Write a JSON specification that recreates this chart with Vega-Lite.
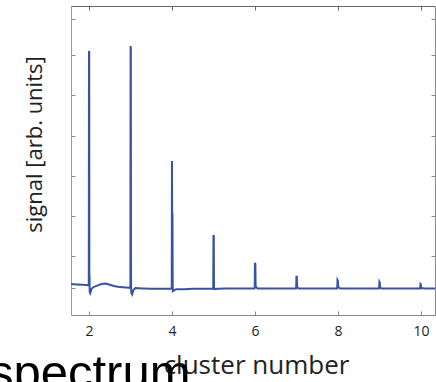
{
  "$schema": "https://vega.github.io/schema/vega-lite/v6.json",
  "width": 364,
  "height": 309,
  "autosize": {"type": "none"},
  "padding": {"left": 71, "top": 6, "right": 1, "bottom": 67},
  "background": "white",
  "title": {"text": "spectrum", "orient": "bottom", "anchor": "start", "frame": "group", "dx": -82, "offset": 11, "fontSize": 49, "font": "Liberation Sans", "fontWeight": "normal", "color": "black", "baseline": "alphabetic"},
  "config": {"view": {"stroke": null}},
  "data": {"values": [
    {"x": 1.566, "v": 0.10}, {"x": 1.7, "v": 0.09}, {"x": 1.85, "v": 0.08}, {"x": 1.98, "v": 0.07},
    {"x": 1.995, "v": 0.1}, {"x": 2.0, "v": 5.925}, {"x": 2.005, "v": 5.9}, {"x": 2.008, "v": 0.35}, {"x": 2.013, "v": 0.3}, {"x": 2.016, "v": -0.1},
    {"x": 2.03, "v": -0.13}, {"x": 2.06, "v": -0.02}, {"x": 2.12, "v": 0.03}, {"x": 2.2, "v": 0.06}, {"x": 2.3, "v": 0.1},
    {"x": 2.4, "v": 0.11}, {"x": 2.5, "v": 0.08}, {"x": 2.6, "v": 0.05}, {"x": 2.7, "v": 0.03}, {"x": 2.8, "v": 0.02},
    {"x": 2.9, "v": 0.01}, {"x": 2.99, "v": 0.0}, {"x": 2.998, "v": 0.1}, {"x": 3.003, "v": 6.05}, {"x": 3.008, "v": 6.0},
    {"x": 3.013, "v": 0.3}, {"x": 3.018, "v": -0.12}, {"x": 3.04, "v": -0.16}, {"x": 3.07, "v": -0.05}, {"x": 3.12, "v": 0.0},
    {"x": 3.3, "v": -0.01}, {"x": 3.5, "v": -0.02}, {"x": 3.7, "v": -0.02}, {"x": 3.99, "v": -0.02},
    {"x": 3.995, "v": 0.1}, {"x": 4.0, "v": 3.175}, {"x": 4.004, "v": 1.9}, {"x": 4.012, "v": 1.85}, {"x": 4.017, "v": 0.1},
    {"x": 4.022, "v": -0.08}, {"x": 4.05, "v": -0.06}, {"x": 4.1, "v": -0.03}, {"x": 4.3, "v": -0.03}, {"x": 4.5, "v": -0.02},
    {"x": 4.7, "v": -0.02}, {"x": 4.99, "v": -0.02}, {"x": 4.995, "v": 0.05}, {"x": 5.0, "v": 1.325}, {"x": 5.008, "v": 1.3},
    {"x": 5.013, "v": 0.05}, {"x": 5.02, "v": -0.03}, {"x": 5.1, "v": -0.02}, {"x": 5.3, "v": -0.01}, {"x": 5.6, "v": -0.01},
    {"x": 5.99, "v": -0.01}, {"x": 5.995, "v": 0.05}, {"x": 6.0, "v": 0.625}, {"x": 6.01, "v": 0.6}, {"x": 6.016, "v": 0.05},
    {"x": 6.03, "v": 0.02}, {"x": 6.06, "v": -0.01}, {"x": 6.3, "v": -0.01}, {"x": 6.6, "v": -0.01}, {"x": 6.99, "v": -0.01},
    {"x": 6.995, "v": 0.05}, {"x": 7.0, "v": 0.3}, {"x": 7.01, "v": 0.28}, {"x": 7.016, "v": 0.03}, {"x": 7.05, "v": -0.01},
    {"x": 7.3, "v": -0.01}, {"x": 7.6, "v": -0.01}, {"x": 7.98, "v": -0.01}, {"x": 7.985, "v": 0.05}, {"x": 7.99, "v": 0.2},
    {"x": 8.0, "v": 0.18}, {"x": 8.006, "v": 0.03}, {"x": 8.05, "v": -0.01}, {"x": 8.3, "v": -0.01}, {"x": 8.6, "v": -0.01},
    {"x": 8.99, "v": -0.01}, {"x": 8.995, "v": 0.05}, {"x": 9.0, "v": 0.15}, {"x": 9.01, "v": 0.13}, {"x": 9.015, "v": 0.02},
    {"x": 9.05, "v": -0.01}, {"x": 9.4, "v": -0.01}, {"x": 9.7, "v": -0.01}, {"x": 9.98, "v": -0.01}, {"x": 9.985, "v": 0.04},
    {"x": 9.99, "v": 0.1}, {"x": 9.998, "v": 0.09}, {"x": 10.004, "v": 0.0}, {"x": 10.1, "v": -0.01}, {"x": 10.34, "v": -0.01}
  ]},
  "layer": [
    {
      "mark": {"type": "line", "color": "#3853a4", "strokeWidth": 2, "clip": true},
      "encoding": {
        "x": {"field": "x", "type": "quantitative",
          "scale": {"domain": [1.566, 10.34], "nice": false, "zero": false},
          "axis": {"orient": "bottom", "values": [2, 4, 6, 8, 10], "grid": false, "domainColor": "#888", "tickColor": "#888", "tickSize": -4, "labelPadding": 13, "labelFont": "Open Sans", "labelFontSize": 14, "labelColor": "#222",
            "title": "cluster number", "titleFont": "Open Sans", "titleFontSize": 26, "titleFontWeight": "normal", "titleColor": "#222", "titleX": 185, "titleY": 58, "titleBaseline": "alphabetic", "titleAlign": "center"}},
        "y": {"field": "v", "type": "quantitative",
          "scale": {"domain": [-0.675, 7.05], "nice": false, "zero": false},
          "axis": {"orient": "left", "values": [0, 0.8, 1.8, 2.8, 3.8, 4.82, 5.825, 6.725], "labels": false, "grid": false, "domainColor": "#999", "tickColor": "#888", "tickSize": -4,
            "title": "signal [arb. units]", "titleFont": "Open Sans", "titleFontSize": 22, "titleFontWeight": "normal", "titleColor": "#222", "titleX": -37, "titleY": 138, "titleAngle": 270, "titleBaseline": "middle", "titleAlign": "center"}}
      }
    },
    {
      "mark": {"type": "line", "opacity": 0},
      "encoding": {
        "x": {"field": "x", "type": "quantitative",
          "axis": {"orient": "top", "values": [2, 4, 6, 8, 10], "labels": false, "grid": false, "domainColor": "#666", "tickColor": "#666", "tickSize": -4, "title": null}},
        "y": {"field": "v", "type": "quantitative",
          "axis": {"orient": "right", "values": [0, 0.8, 1.8, 2.8, 3.8, 4.82, 5.825, 6.725], "labels": false, "grid": false, "domainColor": "#888", "tickColor": "#888", "tickSize": -4, "title": null}}
      }
    }
  ],
  "resolve": {"axis": {"x": "independent", "y": "independent"}}
}
